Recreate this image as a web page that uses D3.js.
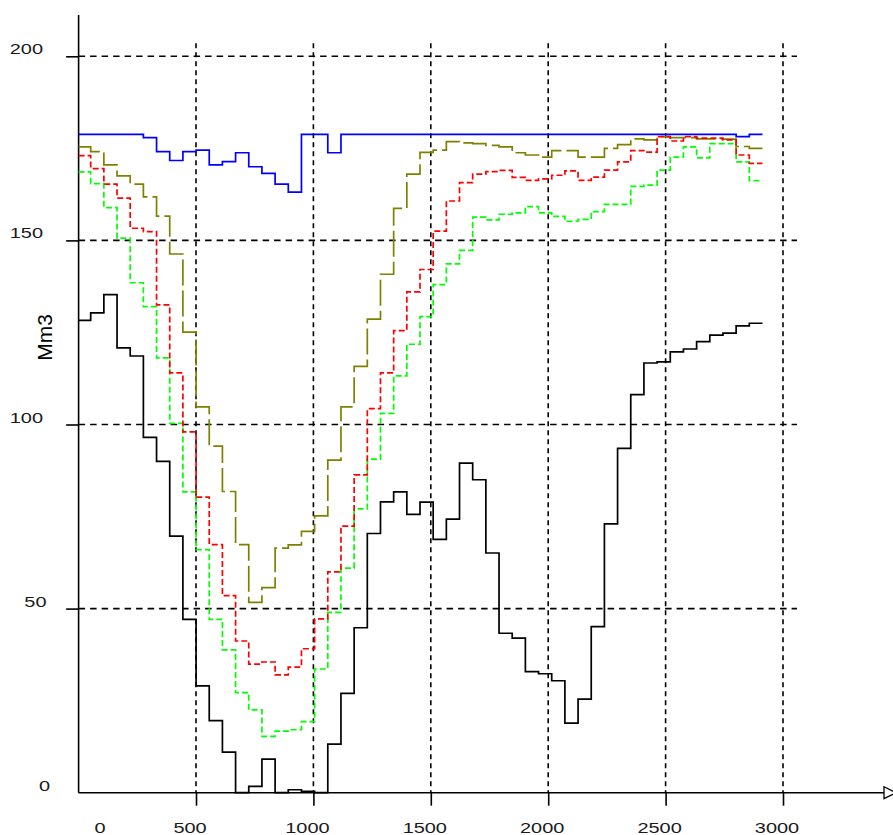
<!DOCTYPE html>
<html><head><meta charset="utf-8">
<script src="https://cdn.jsdelivr.net/npm/d3@7/dist/d3.min.js"></script>
<style>html,body{margin:0;padding:0;background:#fff}svg{display:block}</style>
</head><body>
<script>
// ---- data ----
const timeEdges = [0, 51.5, 107.6, 163.7, 219.8, 275.9, 332, 388.1, 444.2, 500.3, 556.4, 612.5, 668.6, 724.7,
  780.8, 836.9, 893, 949.1, 1005.2, 1061.3, 1117.4, 1173.5, 1229.6, 1285.7, 1341.8, 1397.9, 1454, 1510.1,
  1566.2, 1622.3, 1678.4, 1734.5, 1790.6, 1846.7, 1902.8, 1958.9, 2015, 2071.1, 2127.2, 2183.3, 2239.4,
  2295.5, 2351.6, 2407.7, 2463.8, 2519.9, 2576, 2632.1, 2688.2, 2744.3, 2800.4, 2856.5, 2912.6];

const blueSeries = [178.8,178.8,178.8,178.8,178.8,177.9,174.1,171.7,174.1,174.5,
  170.5,171.4,173.8,170.0,168.2,165.3,163.1,178.8,178.8,173.8,
  178.8,178.8,178.8,178.8,178.8,178.8,178.8,178.8,178.8,178.8,
  178.8,178.8,178.8,178.8,178.8,178.8,178.8,178.8,178.8,178.8,
  178.8,178.8,178.8,178.8,178.8,178.8,178.8,178.8,178.8,178.8,
  178.2,178.8];
const oliveSeries = [175.4,174.1,170.5,167.5,165.3,161.8,156.6,146.3,125.1,104.8,
  94.1,81.8,67.4,51.7,55.7,66.4,67.3,71.0,75.2,90.3,
  104.8,115.8,128.6,140.8,158.7,168.0,173.9,174.5,176.8,176.5,
  176.3,175.8,175.4,173.8,173.2,172.6,174.4,174.4,172.6,172.6,
  175.0,176.0,177.6,177.3,178.2,177.9,177.9,177.6,177.6,177.5,
  175.5,175.0];
const redSeries = [173.0,169.5,165.3,161.5,153.3,152.4,132.5,114.0,98.0,80.3,
  67.4,53.5,41.2,34.9,35.5,32.0,34.1,39.1,47.2,60.0,
  72.4,86.3,104.3,114.0,125.5,136.0,142.1,152.5,160.7,165.7,
  168.0,168.7,169.0,167.1,166.3,166.7,167.7,168.9,166.3,167.2,
  169.1,171.3,174.4,174.0,178.2,177.0,178.2,177.8,177.8,177.3,
  173.2,170.9];
const greenSeries = [168.6,165.4,158.9,150.6,138.5,132.0,118.1,100.3,81.7,66.0,
  47.1,38.8,27.2,22.5,15.3,16.7,17.1,19.3,33.6,49.0,
  61.0,77.1,90.6,103.0,113.2,121.8,129.3,138.0,143.6,147.3,
  156.3,155.6,157.1,157.5,159.2,157.5,156.5,155.2,155.7,157.8,
  159.8,159.8,164.7,165.0,169.1,172.6,175.4,172.4,176.3,176.3,
  171.3,166.2];
const blackSeries = [128.3,130.3,135.3,120.8,118.6,96.5,90.0,69.7,47.1,29.0,
  19.6,11.0,0,1.7,9.1,0,0.8,0.4,0,13.2,
  27.0,44.8,70.4,79.0,81.7,75.6,78.9,68.8,74.3,89.5,
  85.0,65.1,43.3,42.0,32.9,32.3,30.4,18.9,25.4,45.1,
  73.0,93.5,108.1,116.7,117.0,119.7,120.5,122.5,124.3,124.8,
  126.8,127.5];

const xTickValues = [0, 500, 1000, 1500, 2000, 2500, 3000];
const yTickValues = [0, 50, 100, 150, 200];
const yAxisTitle = "Mm3";

// ---- chart ----
const W = 893, H = 835;
const x = d3.scaleLinear().domain([0, 3000]).range([78.6, 783]);
const y = d3.scaleLinear().domain([0, 200]).range([792.7, 56.3]);
const stretch = 1.33;

const svg = d3.select("body").append("svg").attr("width", W).attr("height", H)
  .style("font-family", "'Liberation Sans', Arial, sans-serif");

// grid
const gridG = svg.append("g").attr("stroke", "#000").attr("stroke-width", 1.6).attr("fill", "none");
gridG.selectAll("line.h").data(yTickValues.filter(d => d > 0)).join("line")
  .attr("class", "h")
  .attr("x1", x(0)).attr("x2", 797)
  .attr("y1", d => y(d)).attr("y2", d => y(d))
  .attr("stroke-dasharray", "6.5,5");
gridG.selectAll("line.v").data(xTickValues.filter(d => d > 0)).join("line")
  .attr("class", "v")
  .attr("x1", d => x(d)).attr("x2", d => x(d))
  .attr("y1", 43.3).attr("y2", y(0))
  .attr("stroke-dasharray", "5,4");

// axes via d3 axis generators (tick marks)
const yAxis = svg.append("g").attr("transform", `translate(${x(0)},0)`)
  .call(d3.axisLeft(y).tickValues(yTickValues.filter(d => d > 0)).tickSize(12.5).tickFormat(""));
yAxis.select(".domain").remove();
yAxis.selectAll(".tick line").attr("stroke", "#000").attr("stroke-width", 1.6);

const xAxis = svg.append("g").attr("transform", `translate(0,${y(0)})`)
  .call(d3.axisBottom(x).tickValues(xTickValues.filter(d => d > 0)).tickSize(13).tickFormat(""));
xAxis.select(".domain").remove();
xAxis.selectAll(".tick line").attr("stroke", "#000").attr("stroke-width", 1.6);

// axis lines
svg.append("line").attr("x1", x(0)).attr("x2", x(0)).attr("y1", 15).attr("y2", y(0))
  .attr("stroke", "#000").attr("stroke-width", 1.6);
svg.append("line").attr("x1", x(0)).attr("x2", 884).attr("y1", y(0)).attr("y2", y(0))
  .attr("stroke", "#000").attr("stroke-width", 1.6);
svg.append("path")
  .attr("d", `M884,${y(0) - 6}L884,${y(0) + 6}L896,${y(0)}Z`)
  .attr("fill", "#fff").attr("stroke", "#000").attr("stroke-width", 1.3);

// tick labels
svg.append("g").selectAll("text").data(yTickValues).join("text")
  .attr("transform", d => `translate(${53.5 - 3.5 * String(d).length},${y(d) - 2}) scale(${stretch},1)`)
  .attr("text-anchor", "end").attr("font-size", 15).attr("fill", "#1a1a1a")
  .text(d => d);
svg.append("g").selectAll("text").data(xTickValues).join("text")
  .attr("transform", d => `translate(${Math.max(x(d) - 6, 100)},832.5) scale(${stretch},1)`)
  .attr("text-anchor", "middle").attr("font-size", 15).attr("fill", "#1a1a1a")
  .text(d => d);

// y title
svg.append("text")
  .attr("transform", "translate(52,337.5) rotate(-90)")
  .attr("text-anchor", "middle").attr("font-size", 21).attr("fill", "#000")
  .text(yAxisTitle);

// series
const stepLine = d3.line().x(d => x(d[0])).y(d => y(d[1])).curve(d3.curveStepAfter);
function pts(vals) {
  const p = vals.map((v, i) => [timeEdges[i], v]);
  p.push([timeEdges[vals.length], vals[vals.length - 1]]);
  return p;
}
const seriesList = [
  {vals: blackSeries, color: "#000000", dash: null},
  {vals: greenSeries, color: "#00ff00", dash: "6,3"},
  {vals: oliveSeries, color: "#808000", dash: "26,5"},
  {vals: redSeries, color: "#ff0000", dash: "6,3"},
  {vals: blueSeries, color: "#0000ff", dash: null}
];
svg.append("g").selectAll("path").data(seriesList).join("path")
  .attr("d", d => stepLine(pts(d.vals)))
  .attr("fill", "none")
  .attr("stroke", d => d.color)
  .attr("stroke-width", 1.7)
  .attr("stroke-dasharray", d => d.dash);
</script>
</body></html>
